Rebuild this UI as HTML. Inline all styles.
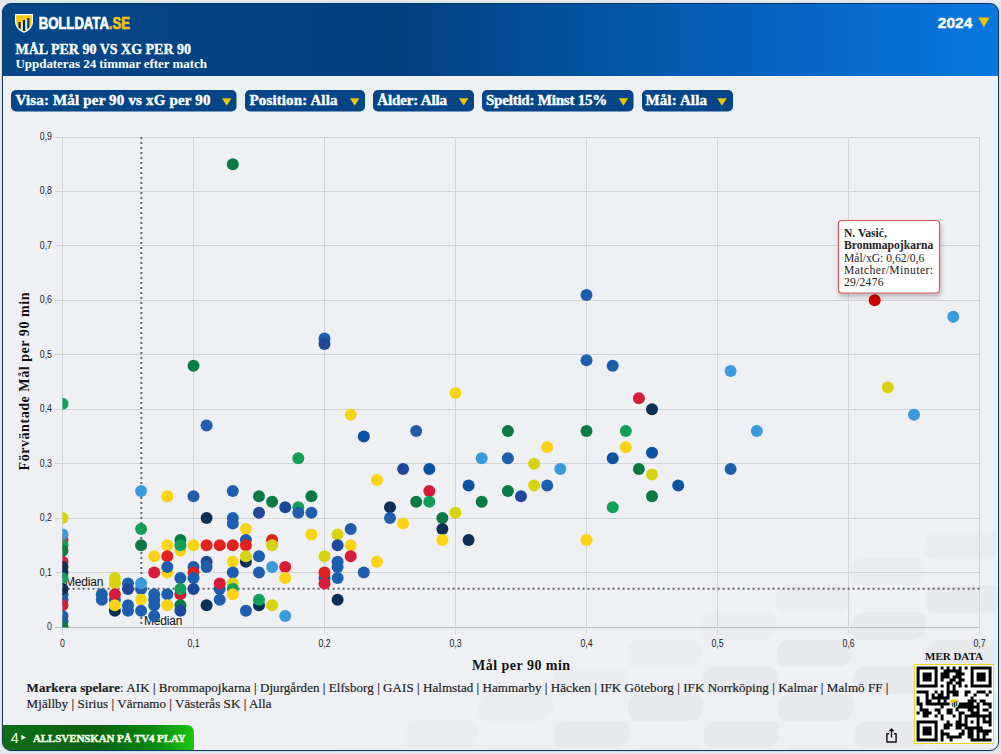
<!DOCTYPE html>
<html><head><meta charset="utf-8"><style>
*{margin:0;padding:0}
html,body{width:1001px;height:754px;overflow:hidden;background:#e7e7e9}
svg{display:block}
</style></head><body>
<svg id="pg" width="1001" height="754" viewBox="0 0 1001 754">
<defs>
<linearGradient id="hg" x1="0" y1="0" x2="1" y2="0">
 <stop offset="0" stop-color="#044688"/><stop offset="0.4" stop-color="#024080"/>
 <stop offset="0.6" stop-color="#0354a3"/><stop offset="0.85" stop-color="#066acb"/><stop offset="1" stop-color="#0a78e2"/>
</linearGradient>
<linearGradient id="gg" x1="0" y1="0" x2="1" y2="0">
 <stop offset="0" stop-color="#0f6d17"/><stop offset="0.5" stop-color="#07620e"/><stop offset="0.8" stop-color="#0b8a10"/><stop offset="1" stop-color="#1cc612"/>
</linearGradient>
<clipPath id="cardclip"><rect x="2.5" y="3.5" width="996" height="747" rx="8.5"/></clipPath>
<clipPath id="pc"><rect x="62.5" y="130" width="920" height="497.5"/></clipPath>
<filter id="sh" x="-20%" y="-20%" width="140%" height="150%"><feDropShadow dx="1" dy="3" stdDeviation="2.5" flood-color="#000" flood-opacity="0.25"/></filter>
</defs>
<rect x="1.5" y="2.5" width="998" height="749" rx="9.5" fill="none" stroke="#c8e3f6" stroke-width="1"/>
<rect x="2.5" y="3.5" width="996" height="747" rx="8.5" fill="#eff0f4"/>
<g clip-path="url(#cardclip)"><rect x="924.0" y="531.0" width="75" height="27.5" rx="11" transform="skewX(-8)" style="transform-box:fill-box;transform-origin:center" fill="#000" fill-opacity="0.015"/><rect x="849.7" y="558.1" width="75" height="27.5" rx="11" transform="skewX(-8)" style="transform-box:fill-box;transform-origin:center" fill="#000" fill-opacity="0.015"/><rect x="999.7" y="558.1" width="75" height="27.5" rx="11" transform="skewX(-8)" style="transform-box:fill-box;transform-origin:center" fill="#000" fill-opacity="0.028"/><rect x="775.4" y="585.2" width="75" height="27.5" rx="11" transform="skewX(-8)" style="transform-box:fill-box;transform-origin:center" fill="#000" fill-opacity="0.015"/><rect x="925.4" y="585.2" width="75" height="27.5" rx="11" transform="skewX(-8)" style="transform-box:fill-box;transform-origin:center" fill="#000" fill-opacity="0.028"/><rect x="701.1" y="612.3" width="75" height="27.5" rx="11" transform="skewX(-8)" style="transform-box:fill-box;transform-origin:center" fill="#000" fill-opacity="0.015"/><rect x="851.1" y="612.3" width="75" height="27.5" rx="11" transform="skewX(-8)" style="transform-box:fill-box;transform-origin:center" fill="#000" fill-opacity="0.028"/><rect x="626.8" y="639.4" width="75" height="27.5" rx="11" transform="skewX(-8)" style="transform-box:fill-box;transform-origin:center" fill="#000" fill-opacity="0.015"/><rect x="776.8" y="639.4" width="75" height="27.5" rx="11" transform="skewX(-8)" style="transform-box:fill-box;transform-origin:center" fill="#000" fill-opacity="0.028"/><rect x="926.8" y="639.4" width="75" height="27.5" rx="11" transform="skewX(-8)" style="transform-box:fill-box;transform-origin:center" fill="#000" fill-opacity="0.028"/><rect x="552.5" y="666.5" width="75" height="27.5" rx="11" transform="skewX(-8)" style="transform-box:fill-box;transform-origin:center" fill="#000" fill-opacity="0.015"/><rect x="702.5" y="666.5" width="75" height="27.5" rx="11" transform="skewX(-8)" style="transform-box:fill-box;transform-origin:center" fill="#000" fill-opacity="0.028"/><rect x="852.5" y="666.5" width="75" height="27.5" rx="11" transform="skewX(-8)" style="transform-box:fill-box;transform-origin:center" fill="#000" fill-opacity="0.028"/><rect x="478.2" y="693.6" width="75" height="27.5" rx="11" transform="skewX(-8)" style="transform-box:fill-box;transform-origin:center" fill="#000" fill-opacity="0.015"/><rect x="628.2" y="693.6" width="75" height="27.5" rx="11" transform="skewX(-8)" style="transform-box:fill-box;transform-origin:center" fill="#000" fill-opacity="0.028"/><rect x="778.2" y="693.6" width="75" height="27.5" rx="11" transform="skewX(-8)" style="transform-box:fill-box;transform-origin:center" fill="#000" fill-opacity="0.028"/><rect x="928.2" y="693.6" width="75" height="27.5" rx="11" transform="skewX(-8)" style="transform-box:fill-box;transform-origin:center" fill="#000" fill-opacity="0.028"/><rect x="403.9" y="720.7" width="75" height="27.5" rx="11" transform="skewX(-8)" style="transform-box:fill-box;transform-origin:center" fill="#000" fill-opacity="0.015"/><rect x="553.9" y="720.7" width="75" height="27.5" rx="11" transform="skewX(-8)" style="transform-box:fill-box;transform-origin:center" fill="#000" fill-opacity="0.028"/><rect x="703.9" y="720.7" width="75" height="27.5" rx="11" transform="skewX(-8)" style="transform-box:fill-box;transform-origin:center" fill="#000" fill-opacity="0.028"/><rect x="853.9" y="720.7" width="75" height="27.5" rx="11" transform="skewX(-8)" style="transform-box:fill-box;transform-origin:center" fill="#000" fill-opacity="0.028"/><rect x="329.6" y="747.8" width="75" height="27.5" rx="11" transform="skewX(-8)" style="transform-box:fill-box;transform-origin:center" fill="#000" fill-opacity="0.015"/><rect x="479.6" y="747.8" width="75" height="27.5" rx="11" transform="skewX(-8)" style="transform-box:fill-box;transform-origin:center" fill="#000" fill-opacity="0.028"/><rect x="629.6" y="747.8" width="75" height="27.5" rx="11" transform="skewX(-8)" style="transform-box:fill-box;transform-origin:center" fill="#000" fill-opacity="0.028"/><rect x="779.6" y="747.8" width="75" height="27.5" rx="11" transform="skewX(-8)" style="transform-box:fill-box;transform-origin:center" fill="#000" fill-opacity="0.028"/><rect x="929.6" y="747.8" width="75" height="27.5" rx="11" transform="skewX(-8)" style="transform-box:fill-box;transform-origin:center" fill="#000" fill-opacity="0.028"/></g>
<g clip-path="url(#cardclip)">
<rect x="0" y="0" width="1001" height="76" fill="url(#hg)"/>
<path d="M0,725 H186 Q194,725 194,733 V755 H0 Z" fill="url(#gg)"/>
</g>
<rect x="2.5" y="3.5" width="996" height="747" rx="8.5" fill="none" stroke="#14395e" stroke-width="1"/>
<g transform="translate(14,13)">
 <path d="M1,1 H19 V9 Q19,16 10,20 Q1,16 1,9 Z" fill="#fff"/>
 <path d="M2.2,2.2 H17.8 V9 Q17.8,15 10,18.6 Q2.2,15 2.2,9 Z" fill="#f5c518"/>
 <path d="M4.5,9 h2.2 v7.5 l-2.2,-2 Z" fill="#0d2a40"/>
 <rect x="9" y="7" width="2.2" height="11" fill="#07301f"/>
 <path d="M13.2,5 h2.2 v9 l-2.2,2.2 Z" fill="#123a55"/>
 <rect x="7" y="9" width="1.8" height="8" fill="#cfe6f5"/>
 <rect x="11.3" y="7" width="1.8" height="10" fill="#cfe6f5"/>
</g>
<text x="38.7" y="28.7" style="font:bold 16px 'Liberation Sans',sans-serif;fill:#fff;stroke:#fff;stroke-width:0.7px" transform="translate(38.7 0) scale(0.82 1) translate(-38.7 0)">BOLLDATA<tspan fill="#f5c518" stroke="#f5c518">.SE</tspan></text>
<text x="15.5" y="53.7" style="font:bold 14px 'Liberation Serif',serif;fill:#fff;stroke:#fff;stroke-width:0.35px">MÅL PER 90 VS XG PER 90</text>
<text x="15.5" y="68" style="font:bold 13px 'Liberation Serif',serif;fill:#fff;letter-spacing:-0.05px">Uppdateras 24 timmar efter match</text>
<text x="937.8" y="27.8" style="font:bold 15.5px 'Liberation Sans',sans-serif;fill:#fff;stroke:#fff;stroke-width:0.45px">2024</text>
<path d="M978.3,17.4 L989.5,17.4 L983.9,27.3 Z" fill="#f5c400"/>
<rect x="11" y="90" width="225.5" height="21.5" rx="5" fill="#044587"/>
<text x="15.5" y="105" style="font:bold 15px 'Liberation Serif',serif;fill:#fff;stroke:#fff;stroke-width:0.4px;letter-spacing:0.17px">Visa: Mål per 90 vs xG per 90</text>
<path d="M222,98.2 L231.4,98.2 L226.7,105.7 Z" fill="#f2c300"/>
<rect x="245" y="90" width="120" height="21.5" rx="5" fill="#044587"/>
<text x="249.5" y="105" style="font:bold 15px 'Liberation Serif',serif;fill:#fff;stroke:#fff;stroke-width:0.4px;letter-spacing:0.13px">Position: Alla</text>
<path d="M350,98.2 L359.4,98.2 L354.7,105.7 Z" fill="#f2c300"/>
<rect x="373" y="90" width="101" height="21.5" rx="5" fill="#044587"/>
<text x="377.3" y="105" style="font:bold 15px 'Liberation Serif',serif;fill:#fff;stroke:#fff;stroke-width:0.4px;letter-spacing:-0.15px">Ålder: Alla</text>
<path d="M459,98.2 L468.4,98.2 L463.7,105.7 Z" fill="#f2c300"/>
<rect x="482" y="90" width="151.5" height="21.5" rx="5" fill="#044587"/>
<text x="486" y="105" style="font:bold 15px 'Liberation Serif',serif;fill:#fff;stroke:#fff;stroke-width:0.4px;letter-spacing:-0.22px">Speltid: Minst 15%</text>
<path d="M618.7,98.2 L628.1,98.2 L623.4000000000001,105.7 Z" fill="#f2c300"/>
<rect x="642" y="90" width="91" height="21.5" rx="5" fill="#044587"/>
<text x="645.4" y="105" style="font:bold 15px 'Liberation Serif',serif;fill:#fff;stroke:#fff;stroke-width:0.4px;letter-spacing:0.15px">Mål: Alla</text>
<path d="M717.3,98.2 L726.6999999999999,98.2 L722.0,105.7 Z" fill="#f2c300"/>
<line x1="55" y1="137.5" x2="980" y2="137.5" stroke="#d3d4d8" stroke-width="1"/>
<line x1="55" y1="191.5" x2="980" y2="191.5" stroke="#d3d4d8" stroke-width="1"/>
<line x1="55" y1="245.5" x2="980" y2="245.5" stroke="#d3d4d8" stroke-width="1"/>
<line x1="55" y1="300.5" x2="980" y2="300.5" stroke="#d3d4d8" stroke-width="1"/>
<line x1="55" y1="354.5" x2="980" y2="354.5" stroke="#d3d4d8" stroke-width="1"/>
<line x1="55" y1="409.5" x2="980" y2="409.5" stroke="#d3d4d8" stroke-width="1"/>
<line x1="55" y1="463.5" x2="980" y2="463.5" stroke="#d3d4d8" stroke-width="1"/>
<line x1="55" y1="518.5" x2="980" y2="518.5" stroke="#d3d4d8" stroke-width="1"/>
<line x1="55" y1="572.5" x2="980" y2="572.5" stroke="#d3d4d8" stroke-width="1"/>
<line x1="55" y1="627.5" x2="980" y2="627.5" stroke="#b9babe" stroke-width="1"/>
<line x1="62.5" y1="137" x2="62.5" y2="634" stroke="#d3d4d8" stroke-width="1"/>
<line x1="193.5" y1="137" x2="193.5" y2="634" stroke="#d3d4d8" stroke-width="1"/>
<line x1="324.5" y1="137" x2="324.5" y2="634" stroke="#d3d4d8" stroke-width="1"/>
<line x1="455.5" y1="137" x2="455.5" y2="634" stroke="#d3d4d8" stroke-width="1"/>
<line x1="586.5" y1="137" x2="586.5" y2="634" stroke="#d3d4d8" stroke-width="1"/>
<line x1="717.5" y1="137" x2="717.5" y2="634" stroke="#d3d4d8" stroke-width="1"/>
<line x1="848.5" y1="137" x2="848.5" y2="634" stroke="#d3d4d8" stroke-width="1"/>
<line x1="979.5" y1="137" x2="979.5" y2="634" stroke="#d3d4d8" stroke-width="1"/>
<line x1="141.3" y1="137" x2="141.3" y2="627" stroke="#666" stroke-width="2" stroke-dasharray="2,3"/>
<line x1="62.6" y1="588.8" x2="980" y2="588.8" stroke="#666" stroke-width="2" stroke-dasharray="2,3"/>
<text x="65" y="585.6" style="font:12px 'Liberation Sans',sans-serif;fill:#111;letter-spacing:-0.2px">Median</text>
<text x="144" y="624.5" style="font:12px 'Liberation Sans',sans-serif;fill:#111;letter-spacing:-0.2px">Median</text>
<g clip-path="url(#pc)">
<circle cx="232.8" cy="164.2" r="6" fill="#0a7a45"/>
<circle cx="586.5" cy="294.9" r="6" fill="#1d5eae"/>
<circle cx="953.3" cy="316.7" r="6" fill="#3a9bdc"/>
<circle cx="586.5" cy="360.2" r="6" fill="#1d5eae"/>
<circle cx="612.7" cy="365.7" r="6" fill="#1d5eae"/>
<circle cx="730.6" cy="371.1" r="6" fill="#3a9bdc"/>
<circle cx="638.9" cy="398.3" r="6" fill="#d81b38"/>
<circle cx="652.0" cy="409.2" r="6" fill="#0c2f57"/>
<circle cx="887.8" cy="387.4" r="6" fill="#d9d30f"/>
<circle cx="914.0" cy="414.7" r="6" fill="#3a9bdc"/>
<circle cx="586.5" cy="431.0" r="6" fill="#0a7a45"/>
<circle cx="625.8" cy="431.0" r="6" fill="#0ea157"/>
<circle cx="756.8" cy="431.0" r="6" fill="#3a9bdc"/>
<circle cx="193.5" cy="365.7" r="6" fill="#0a7a45"/>
<circle cx="206.6" cy="425.6" r="6" fill="#1d5eae"/>
<circle cx="298.3" cy="458.2" r="6" fill="#0ea157"/>
<circle cx="324.5" cy="338.4" r="6" fill="#1d5eae"/>
<circle cx="324.5" cy="343.9" r="6" fill="#20489a"/>
<circle cx="350.7" cy="414.7" r="6" fill="#fcd313"/>
<circle cx="363.8" cy="436.4" r="6" fill="#0a53a2"/>
<circle cx="416.2" cy="431.0" r="6" fill="#1d5eae"/>
<circle cx="455.5" cy="392.9" r="6" fill="#fcd313"/>
<circle cx="507.9" cy="431.0" r="6" fill="#0a7a45"/>
<circle cx="481.7" cy="458.2" r="6" fill="#3a9bdc"/>
<circle cx="507.9" cy="458.2" r="6" fill="#1d5eae"/>
<circle cx="547.2" cy="447.3" r="6" fill="#fcd313"/>
<circle cx="534.1" cy="463.7" r="6" fill="#d9d30f"/>
<circle cx="560.3" cy="469.1" r="6" fill="#3a9bdc"/>
<circle cx="403.1" cy="469.1" r="6" fill="#20489a"/>
<circle cx="429.3" cy="469.1" r="6" fill="#0a53a2"/>
<circle cx="376.9" cy="480.0" r="6" fill="#fcd313"/>
<circle cx="468.6" cy="485.4" r="6" fill="#0a53a2"/>
<circle cx="429.3" cy="490.9" r="6" fill="#d81b38"/>
<circle cx="416.2" cy="501.8" r="6" fill="#0a7a45"/>
<circle cx="429.3" cy="501.8" r="6" fill="#0ea157"/>
<circle cx="455.5" cy="512.7" r="6" fill="#d9d30f"/>
<circle cx="442.4" cy="518.1" r="6" fill="#0a7a45"/>
<circle cx="442.4" cy="529.0" r="6" fill="#0c2f57"/>
<circle cx="442.4" cy="539.9" r="6" fill="#fcd313"/>
<circle cx="468.6" cy="539.9" r="6" fill="#0c2f57"/>
<circle cx="534.1" cy="485.4" r="6" fill="#d9d30f"/>
<circle cx="547.2" cy="485.4" r="6" fill="#1d5eae"/>
<circle cx="507.9" cy="490.9" r="6" fill="#0a7a45"/>
<circle cx="521.0" cy="496.3" r="6" fill="#20489a"/>
<circle cx="481.7" cy="501.8" r="6" fill="#0a7a45"/>
<circle cx="625.8" cy="447.3" r="6" fill="#fcd313"/>
<circle cx="652.0" cy="452.8" r="6" fill="#0a53a2"/>
<circle cx="612.7" cy="458.2" r="6" fill="#0a53a2"/>
<circle cx="638.9" cy="469.1" r="6" fill="#0a7a45"/>
<circle cx="652.0" cy="474.6" r="6" fill="#d9d30f"/>
<circle cx="678.2" cy="485.4" r="6" fill="#0a53a2"/>
<circle cx="652.0" cy="496.3" r="6" fill="#0a7a45"/>
<circle cx="612.7" cy="507.2" r="6" fill="#0ea157"/>
<circle cx="730.6" cy="469.1" r="6" fill="#1d5eae"/>
<circle cx="586.5" cy="539.9" r="6" fill="#fcd313"/>
<circle cx="232.8" cy="490.9" r="6" fill="#1d5eae"/>
<circle cx="259.0" cy="496.3" r="6" fill="#0a7a45"/>
<circle cx="272.1" cy="501.8" r="6" fill="#0a7a45"/>
<circle cx="259.0" cy="512.7" r="6" fill="#20489a"/>
<circle cx="206.6" cy="518.1" r="6" fill="#0c2f57"/>
<circle cx="232.8" cy="518.1" r="6" fill="#1d5eae"/>
<circle cx="232.8" cy="523.6" r="6" fill="#1d5eae"/>
<circle cx="245.9" cy="529.0" r="6" fill="#fcd313"/>
<circle cx="245.9" cy="539.9" r="6" fill="#1d5eae"/>
<circle cx="245.9" cy="545.3" r="6" fill="#e1221f"/>
<circle cx="206.6" cy="545.3" r="6" fill="#e1221f"/>
<circle cx="219.7" cy="545.3" r="6" fill="#e1221f"/>
<circle cx="232.8" cy="545.3" r="6" fill="#e1221f"/>
<circle cx="193.5" cy="545.3" r="6" fill="#fcd313"/>
<circle cx="272.1" cy="539.9" r="6" fill="#e1221f"/>
<circle cx="272.1" cy="545.3" r="6" fill="#d9d30f"/>
<circle cx="245.9" cy="561.7" r="6" fill="#0c2f57"/>
<circle cx="245.9" cy="556.2" r="6" fill="#d9d30f"/>
<circle cx="259.0" cy="556.2" r="6" fill="#1d5eae"/>
<circle cx="232.8" cy="561.7" r="6" fill="#fcd313"/>
<circle cx="206.6" cy="561.7" r="6" fill="#20489a"/>
<circle cx="285.2" cy="507.2" r="6" fill="#20489a"/>
<circle cx="298.3" cy="507.2" r="6" fill="#0ea157"/>
<circle cx="298.3" cy="512.7" r="6" fill="#1d5eae"/>
<circle cx="311.4" cy="496.3" r="6" fill="#0a7a45"/>
<circle cx="311.4" cy="512.7" r="6" fill="#1d5eae"/>
<circle cx="311.4" cy="534.4" r="6" fill="#fcd313"/>
<circle cx="337.6" cy="534.4" r="6" fill="#d9d30f"/>
<circle cx="337.6" cy="545.3" r="6" fill="#20489a"/>
<circle cx="324.5" cy="556.2" r="6" fill="#d9d30f"/>
<circle cx="337.6" cy="561.7" r="6" fill="#1d5eae"/>
<circle cx="337.6" cy="567.1" r="6" fill="#1d5eae"/>
<circle cx="337.6" cy="578.0" r="6" fill="#1d5eae"/>
<circle cx="337.6" cy="599.8" r="6" fill="#0c2f57"/>
<circle cx="350.7" cy="545.3" r="6" fill="#fcd313"/>
<circle cx="350.7" cy="556.2" r="6" fill="#d81b38"/>
<circle cx="376.9" cy="561.7" r="6" fill="#fcd313"/>
<circle cx="363.8" cy="572.6" r="6" fill="#1d5eae"/>
<circle cx="350.7" cy="529.0" r="6" fill="#1d5eae"/>
<circle cx="390.0" cy="507.2" r="6" fill="#0c2f57"/>
<circle cx="390.0" cy="518.1" r="6" fill="#1d5eae"/>
<circle cx="403.1" cy="523.6" r="6" fill="#fcd313"/>
<circle cx="272.1" cy="567.1" r="6" fill="#3a9bdc"/>
<circle cx="285.2" cy="567.1" r="6" fill="#d81b38"/>
<circle cx="285.2" cy="578.0" r="6" fill="#fcd313"/>
<circle cx="324.5" cy="578.0" r="6" fill="#1d5eae"/>
<circle cx="324.5" cy="572.6" r="6" fill="#e1221f"/>
<circle cx="324.5" cy="583.4" r="6" fill="#d81b38"/>
<circle cx="272.1" cy="605.2" r="6" fill="#d9d30f"/>
<circle cx="285.2" cy="616.1" r="6" fill="#3a9bdc"/>
<circle cx="232.8" cy="572.6" r="6" fill="#1d5eae"/>
<circle cx="259.0" cy="572.6" r="6" fill="#1d5eae"/>
<circle cx="219.7" cy="588.9" r="6" fill="#1d5eae"/>
<circle cx="219.7" cy="583.4" r="6" fill="#d81b38"/>
<circle cx="219.7" cy="599.8" r="6" fill="#1d5eae"/>
<circle cx="232.8" cy="583.4" r="6" fill="#d9d30f"/>
<circle cx="232.8" cy="588.9" r="6" fill="#0ea157"/>
<circle cx="232.8" cy="594.3" r="6" fill="#fcd313"/>
<circle cx="206.6" cy="605.2" r="6" fill="#0c2f57"/>
<circle cx="245.9" cy="610.7" r="6" fill="#1d5eae"/>
<circle cx="259.0" cy="605.2" r="6" fill="#0c2f57"/>
<circle cx="259.0" cy="599.8" r="6" fill="#0ea157"/>
<circle cx="206.6" cy="567.1" r="6" fill="#1d5eae"/>
<circle cx="193.5" cy="567.1" r="6" fill="#1d5eae"/>
<circle cx="193.5" cy="572.6" r="6" fill="#e1221f"/>
<circle cx="193.5" cy="578.0" r="6" fill="#1d5eae"/>
<circle cx="193.5" cy="588.9" r="6" fill="#20489a"/>
<circle cx="141.1" cy="490.9" r="6" fill="#3a9bdc"/>
<circle cx="167.3" cy="496.3" r="6" fill="#fcd313"/>
<circle cx="193.5" cy="496.3" r="6" fill="#1d5eae"/>
<circle cx="141.1" cy="529.0" r="6" fill="#0ea157"/>
<circle cx="141.1" cy="545.3" r="6" fill="#0a7a45"/>
<circle cx="167.3" cy="545.3" r="6" fill="#fcd313"/>
<circle cx="180.4" cy="550.8" r="6" fill="#fcd313"/>
<circle cx="180.4" cy="539.9" r="6" fill="#0a7a45"/>
<circle cx="180.4" cy="545.3" r="6" fill="#0ea157"/>
<circle cx="154.2" cy="556.2" r="6" fill="#fcd313"/>
<circle cx="167.3" cy="556.2" r="6" fill="#e1221f"/>
<circle cx="167.3" cy="572.6" r="6" fill="#fcd313"/>
<circle cx="167.3" cy="567.1" r="6" fill="#1d5eae"/>
<circle cx="154.2" cy="572.6" r="6" fill="#d81b38"/>
<circle cx="101.8" cy="594.3" r="6" fill="#1d5eae"/>
<circle cx="101.8" cy="599.8" r="6" fill="#1d5eae"/>
<circle cx="114.9" cy="610.7" r="6" fill="#0c2f57"/>
<circle cx="114.9" cy="599.8" r="6" fill="#1d5eae"/>
<circle cx="114.9" cy="583.4" r="6" fill="#d9d30f"/>
<circle cx="114.9" cy="578.0" r="6" fill="#d9d30f"/>
<circle cx="114.9" cy="594.3" r="6" fill="#d81b38"/>
<circle cx="114.9" cy="605.2" r="6" fill="#fcd313"/>
<circle cx="128.0" cy="583.4" r="6" fill="#1d5eae"/>
<circle cx="128.0" cy="588.9" r="6" fill="#20489a"/>
<circle cx="128.0" cy="605.2" r="6" fill="#1d5eae"/>
<circle cx="128.0" cy="610.7" r="6" fill="#1d5eae"/>
<circle cx="141.1" cy="588.9" r="6" fill="#1d5eae"/>
<circle cx="141.1" cy="583.4" r="6" fill="#3a9bdc"/>
<circle cx="141.1" cy="599.8" r="6" fill="#fcd313"/>
<circle cx="141.1" cy="610.7" r="6" fill="#1d5eae"/>
<circle cx="154.2" cy="594.3" r="6" fill="#1d5eae"/>
<circle cx="154.2" cy="599.8" r="6" fill="#1d5eae"/>
<circle cx="154.2" cy="605.2" r="6" fill="#1d5eae"/>
<circle cx="154.2" cy="616.1" r="6" fill="#1d5eae"/>
<circle cx="167.3" cy="594.3" r="6" fill="#1d5eae"/>
<circle cx="167.3" cy="605.2" r="6" fill="#fcd313"/>
<circle cx="180.4" cy="578.0" r="6" fill="#1d5eae"/>
<circle cx="180.4" cy="594.3" r="6" fill="#d81b38"/>
<circle cx="180.4" cy="588.9" r="6" fill="#0ea157"/>
<circle cx="180.4" cy="605.2" r="6" fill="#0a7a45"/>
<circle cx="180.4" cy="610.7" r="6" fill="#20489a"/>
<circle cx="62.5" cy="539.9" r="6" fill="#d81b38"/>
<circle cx="62.5" cy="534.4" r="6" fill="#3a9bdc"/>
<circle cx="62.5" cy="545.3" r="6" fill="#0ea157"/>
<circle cx="62.5" cy="550.8" r="6" fill="#0a7a45"/>
<circle cx="62.5" cy="561.7" r="6" fill="#d81b38"/>
<circle cx="62.5" cy="567.1" r="6" fill="#0c2f57"/>
<circle cx="62.5" cy="572.6" r="6" fill="#0c2f57"/>
<circle cx="62.5" cy="594.3" r="6" fill="#1d5eae"/>
<circle cx="62.5" cy="599.8" r="6" fill="#1d5eae"/>
<circle cx="62.5" cy="578.0" r="6" fill="#0ea157"/>
<circle cx="62.5" cy="588.9" r="6" fill="#0c2f57"/>
<circle cx="62.5" cy="605.2" r="6" fill="#d81b38"/>
<circle cx="62.5" cy="616.1" r="6" fill="#1d5eae"/>
<circle cx="62.5" cy="621.6" r="6" fill="#1d5eae"/>
<circle cx="62.5" cy="627.0" r="6" fill="#0a7a45"/>
<circle cx="62.5" cy="518.1" r="6" fill="#d9d30f"/>
<circle cx="62.5" cy="403.8" r="6" fill="#0ea157"/>
<circle cx="874.7" cy="300.3" r="6" fill="#cc0000"/>
</g>
<text transform="translate(52 630.0) scale(0.88 1)" text-anchor="end" style="font:10px 'Liberation Sans',sans-serif;fill:#222">0</text>
<text transform="translate(52 575.6) scale(0.88 1)" text-anchor="end" style="font:10px 'Liberation Sans',sans-serif;fill:#222">0,1</text>
<text transform="translate(52 521.1) scale(0.88 1)" text-anchor="end" style="font:10px 'Liberation Sans',sans-serif;fill:#222">0,2</text>
<text transform="translate(52 466.7) scale(0.88 1)" text-anchor="end" style="font:10px 'Liberation Sans',sans-serif;fill:#222">0,3</text>
<text transform="translate(52 412.2) scale(0.88 1)" text-anchor="end" style="font:10px 'Liberation Sans',sans-serif;fill:#222">0,4</text>
<text transform="translate(52 357.8) scale(0.88 1)" text-anchor="end" style="font:10px 'Liberation Sans',sans-serif;fill:#222">0,5</text>
<text transform="translate(52 303.3) scale(0.88 1)" text-anchor="end" style="font:10px 'Liberation Sans',sans-serif;fill:#222">0,6</text>
<text transform="translate(52 248.9) scale(0.88 1)" text-anchor="end" style="font:10px 'Liberation Sans',sans-serif;fill:#222">0,7</text>
<text transform="translate(52 194.4) scale(0.88 1)" text-anchor="end" style="font:10px 'Liberation Sans',sans-serif;fill:#222">0,8</text>
<text transform="translate(52 140.0) scale(0.88 1)" text-anchor="end" style="font:10px 'Liberation Sans',sans-serif;fill:#222">0,9</text>
<text transform="translate(62.5 646.8) scale(0.88 1)" text-anchor="middle" style="font:10px 'Liberation Sans',sans-serif;fill:#222">0</text>
<text transform="translate(193.5 646.8) scale(0.88 1)" text-anchor="middle" style="font:10px 'Liberation Sans',sans-serif;fill:#222">0,1</text>
<text transform="translate(324.5 646.8) scale(0.88 1)" text-anchor="middle" style="font:10px 'Liberation Sans',sans-serif;fill:#222">0,2</text>
<text transform="translate(455.5 646.8) scale(0.88 1)" text-anchor="middle" style="font:10px 'Liberation Sans',sans-serif;fill:#222">0,3</text>
<text transform="translate(586.5 646.8) scale(0.88 1)" text-anchor="middle" style="font:10px 'Liberation Sans',sans-serif;fill:#222">0,4</text>
<text transform="translate(717.5 646.8) scale(0.88 1)" text-anchor="middle" style="font:10px 'Liberation Sans',sans-serif;fill:#222">0,5</text>
<text transform="translate(848.5 646.8) scale(0.88 1)" text-anchor="middle" style="font:10px 'Liberation Sans',sans-serif;fill:#222">0,6</text>
<text transform="translate(979.5 646.8) scale(0.88 1)" text-anchor="middle" style="font:10px 'Liberation Sans',sans-serif;fill:#222">0,7</text>
<text x="472" y="669.7" style="font:bold 14px 'Liberation Serif',serif;fill:#111;letter-spacing:0.48px">Mål per 90 min</text>
<text transform="translate(28.6 470.4) rotate(-90)" x="0" y="0" style="font:bold 14px 'Liberation Serif',serif;fill:#111;letter-spacing:0.55px">Förväntade Mål per 90 min</text>
<g filter="url(#sh)"><rect x="838.5" y="220.5" width="101" height="72.5" rx="3" fill="#fff" stroke="#cf5b5b" stroke-width="1.2"/></g>
<text x="844" y="237.4" style="font:bold 11.6px 'Liberation Serif',serif;fill:#222;letter-spacing:0px">N. Vasić,</text>
<text x="844" y="249.2" style="font:bold 11.6px 'Liberation Serif',serif;fill:#222;letter-spacing:0px">Brommapojkarna</text>
<text x="844" y="261.7" style="font:11.6px 'Liberation Serif',serif;fill:#222;letter-spacing:0px">Mål/xG: 0,62/0,6</text>
<text x="844" y="274.2" style="font:11.6px 'Liberation Serif',serif;fill:#222;letter-spacing:0.44px">Matcher/Minuter:</text>
<text x="844" y="286" style="font:11.6px 'Liberation Serif',serif;fill:#222;letter-spacing:0.25px">29/2476</text>
<text x="26.6" y="691.5" style="font:13px 'Liberation Serif',serif;fill:#222;stroke:#222;stroke-width:0.2px;letter-spacing:0.06px"><tspan font-weight="bold">Markera spelare</tspan>: AIK | Brommapojkarna | Djurgården | Elfsborg | GAIS | Halmstad | Hammarby | Häcken | IFK Göteborg | IFK Norrköping | Kalmar | Malmö FF |</text>
<text x="26.6" y="708" style="font:13px 'Liberation Serif',serif;fill:#222;stroke:#222;stroke-width:0.2px;letter-spacing:0.06px">Mjällby | Sirius | Värnamo | Västerås SK | Alla</text>
<text x="925" y="660.4" style="font:bold 11px 'Liberation Serif',serif;fill:#111">MER DATA</text>
<rect x="914.5" y="664.5" width="79" height="79" fill="#fff" stroke="#f0d020" stroke-width="1"/>
<path d="M916.6,666.6h3v3h-3zM919.6,666.6h3v3h-3zM922.6,666.6h3v3h-3zM925.6,666.6h3v3h-3zM928.6,666.6h3v3h-3zM931.6,666.6h3v3h-3zM934.6,666.6h3v3h-3zM940.6,666.6h3v3h-3zM946.6,666.6h3v3h-3zM952.6,666.6h3v3h-3zM958.6,666.6h3v3h-3zM964.6,666.6h3v3h-3zM970.6,666.6h3v3h-3zM973.6,666.6h3v3h-3zM976.6,666.6h3v3h-3zM979.6,666.6h3v3h-3zM982.6,666.6h3v3h-3zM985.6,666.6h3v3h-3zM988.6,666.6h3v3h-3zM916.6,669.6h3v3h-3zM934.6,669.6h3v3h-3zM943.6,669.6h3v3h-3zM946.6,669.6h3v3h-3zM949.6,669.6h3v3h-3zM952.6,669.6h3v3h-3zM955.6,669.6h3v3h-3zM958.6,669.6h3v3h-3zM970.6,669.6h3v3h-3zM988.6,669.6h3v3h-3zM916.6,672.6h3v3h-3zM922.6,672.6h3v3h-3zM925.6,672.6h3v3h-3zM928.6,672.6h3v3h-3zM934.6,672.6h3v3h-3zM940.6,672.6h3v3h-3zM943.6,672.6h3v3h-3zM946.6,672.6h3v3h-3zM955.6,672.6h3v3h-3zM958.6,672.6h3v3h-3zM961.6,672.6h3v3h-3zM970.6,672.6h3v3h-3zM976.6,672.6h3v3h-3zM979.6,672.6h3v3h-3zM982.6,672.6h3v3h-3zM988.6,672.6h3v3h-3zM916.6,675.6h3v3h-3zM922.6,675.6h3v3h-3zM925.6,675.6h3v3h-3zM928.6,675.6h3v3h-3zM934.6,675.6h3v3h-3zM940.6,675.6h3v3h-3zM943.6,675.6h3v3h-3zM946.6,675.6h3v3h-3zM952.6,675.6h3v3h-3zM955.6,675.6h3v3h-3zM958.6,675.6h3v3h-3zM970.6,675.6h3v3h-3zM976.6,675.6h3v3h-3zM979.6,675.6h3v3h-3zM982.6,675.6h3v3h-3zM988.6,675.6h3v3h-3zM916.6,678.6h3v3h-3zM922.6,678.6h3v3h-3zM925.6,678.6h3v3h-3zM928.6,678.6h3v3h-3zM934.6,678.6h3v3h-3zM940.6,678.6h3v3h-3zM949.6,678.6h3v3h-3zM952.6,678.6h3v3h-3zM958.6,678.6h3v3h-3zM961.6,678.6h3v3h-3zM970.6,678.6h3v3h-3zM976.6,678.6h3v3h-3zM979.6,678.6h3v3h-3zM982.6,678.6h3v3h-3zM988.6,678.6h3v3h-3zM916.6,681.6h3v3h-3zM934.6,681.6h3v3h-3zM946.6,681.6h3v3h-3zM949.6,681.6h3v3h-3zM955.6,681.6h3v3h-3zM958.6,681.6h3v3h-3zM970.6,681.6h3v3h-3zM988.6,681.6h3v3h-3zM916.6,684.6h3v3h-3zM919.6,684.6h3v3h-3zM922.6,684.6h3v3h-3zM925.6,684.6h3v3h-3zM928.6,684.6h3v3h-3zM931.6,684.6h3v3h-3zM934.6,684.6h3v3h-3zM940.6,684.6h3v3h-3zM946.6,684.6h3v3h-3zM952.6,684.6h3v3h-3zM958.6,684.6h3v3h-3zM964.6,684.6h3v3h-3zM970.6,684.6h3v3h-3zM973.6,684.6h3v3h-3zM976.6,684.6h3v3h-3zM979.6,684.6h3v3h-3zM982.6,684.6h3v3h-3zM985.6,684.6h3v3h-3zM988.6,684.6h3v3h-3zM946.6,687.6h3v3h-3zM952.6,687.6h3v3h-3zM916.6,690.6h3v3h-3zM919.6,690.6h3v3h-3zM922.6,690.6h3v3h-3zM925.6,690.6h3v3h-3zM934.6,690.6h3v3h-3zM940.6,690.6h3v3h-3zM946.6,690.6h3v3h-3zM949.6,690.6h3v3h-3zM952.6,690.6h3v3h-3zM955.6,690.6h3v3h-3zM964.6,690.6h3v3h-3zM967.6,690.6h3v3h-3zM976.6,690.6h3v3h-3zM979.6,690.6h3v3h-3zM982.6,690.6h3v3h-3zM988.6,690.6h3v3h-3zM925.6,693.6h3v3h-3zM931.6,693.6h3v3h-3zM937.6,693.6h3v3h-3zM940.6,693.6h3v3h-3zM946.6,693.6h3v3h-3zM952.6,693.6h3v3h-3zM955.6,693.6h3v3h-3zM964.6,693.6h3v3h-3zM973.6,693.6h3v3h-3zM985.6,693.6h3v3h-3zM916.6,696.6h3v3h-3zM925.6,696.6h3v3h-3zM931.6,696.6h3v3h-3zM934.6,696.6h3v3h-3zM937.6,696.6h3v3h-3zM940.6,696.6h3v3h-3zM943.6,696.6h3v3h-3zM946.6,696.6h3v3h-3zM970.6,696.6h3v3h-3zM916.6,699.6h3v3h-3zM925.6,699.6h3v3h-3zM928.6,699.6h3v3h-3zM937.6,699.6h3v3h-3zM943.6,699.6h3v3h-3zM967.6,699.6h3v3h-3zM970.6,699.6h3v3h-3zM973.6,699.6h3v3h-3zM979.6,699.6h3v3h-3zM982.6,699.6h3v3h-3zM916.6,702.6h3v3h-3zM919.6,702.6h3v3h-3zM925.6,702.6h3v3h-3zM928.6,702.6h3v3h-3zM931.6,702.6h3v3h-3zM934.6,702.6h3v3h-3zM937.6,702.6h3v3h-3zM940.6,702.6h3v3h-3zM943.6,702.6h3v3h-3zM946.6,702.6h3v3h-3zM955.6,702.6h3v3h-3zM958.6,702.6h3v3h-3zM961.6,702.6h3v3h-3zM964.6,702.6h3v3h-3zM967.6,702.6h3v3h-3zM970.6,702.6h3v3h-3zM976.6,702.6h3v3h-3zM982.6,702.6h3v3h-3zM985.6,702.6h3v3h-3zM988.6,702.6h3v3h-3zM919.6,705.6h3v3h-3zM940.6,705.6h3v3h-3zM955.6,705.6h3v3h-3zM958.6,705.6h3v3h-3zM961.6,705.6h3v3h-3zM964.6,705.6h3v3h-3zM967.6,705.6h3v3h-3zM970.6,705.6h3v3h-3zM973.6,705.6h3v3h-3zM976.6,705.6h3v3h-3zM988.6,705.6h3v3h-3zM919.6,708.6h3v3h-3zM922.6,708.6h3v3h-3zM925.6,708.6h3v3h-3zM934.6,708.6h3v3h-3zM937.6,708.6h3v3h-3zM946.6,708.6h3v3h-3zM949.6,708.6h3v3h-3zM955.6,708.6h3v3h-3zM967.6,708.6h3v3h-3zM970.6,708.6h3v3h-3zM976.6,708.6h3v3h-3zM982.6,708.6h3v3h-3zM985.6,708.6h3v3h-3zM916.6,711.6h3v3h-3zM922.6,711.6h3v3h-3zM925.6,711.6h3v3h-3zM928.6,711.6h3v3h-3zM937.6,711.6h3v3h-3zM946.6,711.6h3v3h-3zM949.6,711.6h3v3h-3zM958.6,711.6h3v3h-3zM961.6,711.6h3v3h-3zM970.6,711.6h3v3h-3zM973.6,711.6h3v3h-3zM976.6,711.6h3v3h-3zM988.6,711.6h3v3h-3zM922.6,714.6h3v3h-3zM925.6,714.6h3v3h-3zM934.6,714.6h3v3h-3zM940.6,714.6h3v3h-3zM952.6,714.6h3v3h-3zM958.6,714.6h3v3h-3zM964.6,714.6h3v3h-3zM967.6,714.6h3v3h-3zM970.6,714.6h3v3h-3zM973.6,714.6h3v3h-3zM976.6,714.6h3v3h-3zM979.6,714.6h3v3h-3zM982.6,714.6h3v3h-3zM985.6,714.6h3v3h-3zM988.6,714.6h3v3h-3zM940.6,717.6h3v3h-3zM958.6,717.6h3v3h-3zM964.6,717.6h3v3h-3zM976.6,717.6h3v3h-3zM982.6,717.6h3v3h-3zM988.6,717.6h3v3h-3zM916.6,720.6h3v3h-3zM919.6,720.6h3v3h-3zM922.6,720.6h3v3h-3zM925.6,720.6h3v3h-3zM928.6,720.6h3v3h-3zM931.6,720.6h3v3h-3zM934.6,720.6h3v3h-3zM946.6,720.6h3v3h-3zM955.6,720.6h3v3h-3zM958.6,720.6h3v3h-3zM964.6,720.6h3v3h-3zM970.6,720.6h3v3h-3zM976.6,720.6h3v3h-3zM982.6,720.6h3v3h-3zM985.6,720.6h3v3h-3zM988.6,720.6h3v3h-3zM916.6,723.6h3v3h-3zM934.6,723.6h3v3h-3zM943.6,723.6h3v3h-3zM946.6,723.6h3v3h-3zM949.6,723.6h3v3h-3zM955.6,723.6h3v3h-3zM958.6,723.6h3v3h-3zM961.6,723.6h3v3h-3zM964.6,723.6h3v3h-3zM976.6,723.6h3v3h-3zM988.6,723.6h3v3h-3zM916.6,726.6h3v3h-3zM922.6,726.6h3v3h-3zM925.6,726.6h3v3h-3zM928.6,726.6h3v3h-3zM934.6,726.6h3v3h-3zM943.6,726.6h3v3h-3zM946.6,726.6h3v3h-3zM955.6,726.6h3v3h-3zM958.6,726.6h3v3h-3zM964.6,726.6h3v3h-3zM967.6,726.6h3v3h-3zM970.6,726.6h3v3h-3zM973.6,726.6h3v3h-3zM976.6,726.6h3v3h-3zM979.6,726.6h3v3h-3zM916.6,729.6h3v3h-3zM922.6,729.6h3v3h-3zM925.6,729.6h3v3h-3zM928.6,729.6h3v3h-3zM934.6,729.6h3v3h-3zM940.6,729.6h3v3h-3zM961.6,729.6h3v3h-3zM967.6,729.6h3v3h-3zM970.6,729.6h3v3h-3zM976.6,729.6h3v3h-3zM979.6,729.6h3v3h-3zM982.6,729.6h3v3h-3zM985.6,729.6h3v3h-3zM988.6,729.6h3v3h-3zM916.6,732.6h3v3h-3zM922.6,732.6h3v3h-3zM925.6,732.6h3v3h-3zM928.6,732.6h3v3h-3zM934.6,732.6h3v3h-3zM940.6,732.6h3v3h-3zM943.6,732.6h3v3h-3zM946.6,732.6h3v3h-3zM958.6,732.6h3v3h-3zM961.6,732.6h3v3h-3zM967.6,732.6h3v3h-3zM970.6,732.6h3v3h-3zM976.6,732.6h3v3h-3zM982.6,732.6h3v3h-3zM985.6,732.6h3v3h-3zM916.6,735.6h3v3h-3zM934.6,735.6h3v3h-3zM940.6,735.6h3v3h-3zM946.6,735.6h3v3h-3zM949.6,735.6h3v3h-3zM952.6,735.6h3v3h-3zM955.6,735.6h3v3h-3zM958.6,735.6h3v3h-3zM967.6,735.6h3v3h-3zM970.6,735.6h3v3h-3zM976.6,735.6h3v3h-3zM982.6,735.6h3v3h-3zM916.6,738.6h3v3h-3zM919.6,738.6h3v3h-3zM922.6,738.6h3v3h-3zM925.6,738.6h3v3h-3zM928.6,738.6h3v3h-3zM931.6,738.6h3v3h-3zM934.6,738.6h3v3h-3zM940.6,738.6h3v3h-3zM949.6,738.6h3v3h-3zM970.6,738.6h3v3h-3zM973.6,738.6h3v3h-3zM976.6,738.6h3v3h-3zM979.6,738.6h3v3h-3zM982.6,738.6h3v3h-3zM985.6,738.6h3v3h-3zM988.6,738.6h3v3h-3z" fill="#000"/>
<g transform="translate(949.5,698.5) scale(0.5)">
 <path d="M1,1 H19 V9 Q19,16 10,20 Q1,16 1,9 Z" fill="#fff"/>
 <path d="M2.2,2.2 H17.8 V9 Q17.8,15 10,18.6 Q2.2,15 2.2,9 Z" fill="#f5c518"/>
 <rect x="5" y="9" width="2.2" height="7" fill="#37566e"/>
 <rect x="9" y="7" width="2.2" height="11" fill="#07301f"/>
 <rect x="13" y="5" width="2.2" height="10" fill="#37566e"/>
</g>
<path d="M889,733.8 H886.9 V742 H896.1 V733.8 H894" fill="none" stroke="#111" stroke-width="1.4" stroke-linejoin="round"/>
<path d="M891.5,737.5 V730" stroke="#111" stroke-width="1.4"/>
<path d="M889,731 L891.5,728.3 L894,731 Z" fill="#111" stroke="#111" stroke-width="0.6" stroke-linejoin="round"/>
<text x="10.8" y="742.9" style="font:14.5px 'Liberation Sans',sans-serif;fill:#f4fff0">4</text>
<path d="M21.3,734.7 L26,737.4 L21.3,740.1 Z" fill="#f4fff0"/>
<text x="33" y="741.8" style="font:bold 11px 'Liberation Serif',serif;fill:#f3fbe6;stroke:#f3fbe6;stroke-width:0.45px;letter-spacing:-0.1px">ALLSVENSKAN PÅ TV4 PLAY</text>
</svg>
</body></html>
